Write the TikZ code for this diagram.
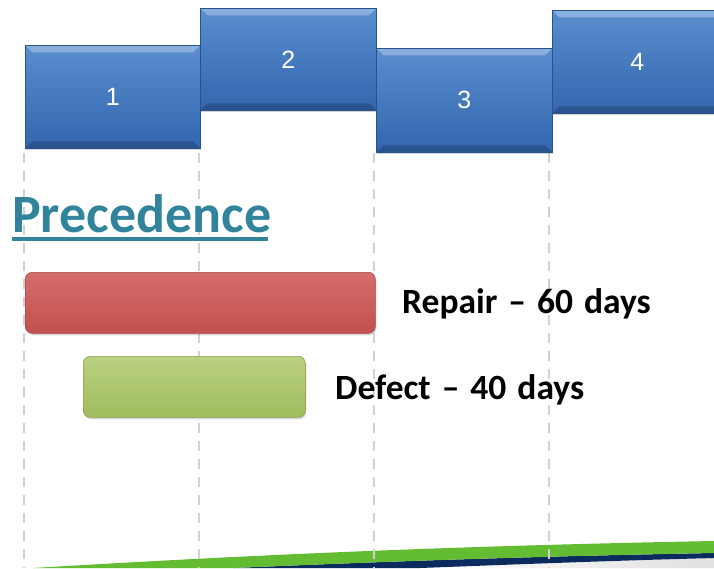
\documentclass[tikz,border=0pt]{standalone}
\usepackage{fontspec}
\newfontfamily\calibri{Carlito}
\newfontfamily\arial{Liberation Sans}
\usetikzlibrary{shadows}
\definecolor{blk}{HTML}{3C7AC6}
\definecolor{blkdark}{HTML}{3366AE}
\definecolor{teal}{HTML}{31849B}
\definecolor{repair}{HTML}{CD5452}
\definecolor{defect}{HTML}{A9C662}
\definecolor{swgreen}{HTML}{63BC32}
\definecolor{swnavy}{HTML}{0B2A5E}
\newcommand{\gap}{\hspace{0.31em}}
\begin{document}
\begin{tikzpicture}[x=1pt,y=-1pt,
    block/.style={rectangle,inner sep=0pt,anchor=north west,text=white,
        font=\arial\fontsize{25}{30}\selectfont,
        top color=blk!85!white,bottom color=blkdark,draw=blkdark!80!black,line width=.6pt,
        drop shadow={opacity=.35,shadow xshift=1pt,shadow yshift=-2pt},
        path picture={
            \fill[white,opacity=.3] (path picture bounding box.north west)--(path picture bounding box.north east)
                --([xshift=-7pt,yshift=-7pt]path picture bounding box.north east)--([xshift=7pt,yshift=-7pt]path picture bounding box.north west)--cycle;
            \fill[black,opacity=.18] (path picture bounding box.south west)--(path picture bounding box.south east)
                --([xshift=-7pt,yshift=7pt]path picture bounding box.south east)--([xshift=7pt,yshift=7pt]path picture bounding box.south west)--cycle;
        }},
    bar/.style={rectangle,rounded corners=7pt,inner sep=0pt,anchor=north west,line width=.6pt,
        drop shadow={opacity=.3,shadow xshift=1pt,shadow yshift=-2pt}},
    label/.style={anchor=base west,inner sep=0pt,font=\calibri\bfseries\fontsize{35.5}{42}\selectfont}]
\clip (0,0) rectangle (714,568);
\fill[white] (0,0) rectangle (714,568);
% swoosh at the bottom
\shade[left color=white,right color=black!12] (420,568) .. controls (500,565) and (600,561) .. (714,558) -- (714,568) -- cycle;
\fill[swnavy] (233,568) .. controls (350,563) and (500,557) .. (714,553) -- (714,558) .. controls (600,561) and (500,565) .. (420,568) -- cycle;
\fill[swgreen] (33,568) .. controls (250,555) and (450,546) .. (714,541) -- (714,553) .. controls (500,557) and (350,563) .. (233,568) -- cycle;
% grid lines
\foreach \x in {24,199,374,549}
{
    \draw[black!18,line width=1.8pt,dash pattern=on 10pt off 8pt] (\x,153)--(\x,568);
}
% blocks
\node[block,minimum width=175pt,minimum height=103pt] (b1) at (25,45) {1};
\node[block,minimum width=176pt,minimum height=102pt] (b2) at (200,8) {2};
\node[block,minimum width=176pt,minimum height=104pt] (b3) at (376,48) {3};
\node[block,minimum width=170pt,minimum height=103pt] (b4) at (552,10) {4};
% precedence
\node[anchor=base west,inner sep=0pt,text=teal,font=\calibri\bfseries\fontsize{54}{62}\selectfont] (title) at (12,232) {Precedence};
\draw[teal,line width=3.5pt] (title.base west)++(0,7)--++(256,0);
\node[bar,top color=repair!85!white,bottom color=repair!95!black,draw=repair!85!black,minimum width=350pt,minimum height=61pt] (rep) at (25,272) {};
\node[bar,top color=defect!80!white,bottom color=defect!95!black,draw=defect!80!black,minimum width=222pt,minimum height=61pt] (def) at (83,356) {};
\node[label] (replabel) at (402,313) {Repair\gap\textendash\gap 60\gap days};
\node[label] (deflabel) at (335,399) {Defect\gap\textendash\gap 40\gap days};
\end{tikzpicture}
\end{document}
